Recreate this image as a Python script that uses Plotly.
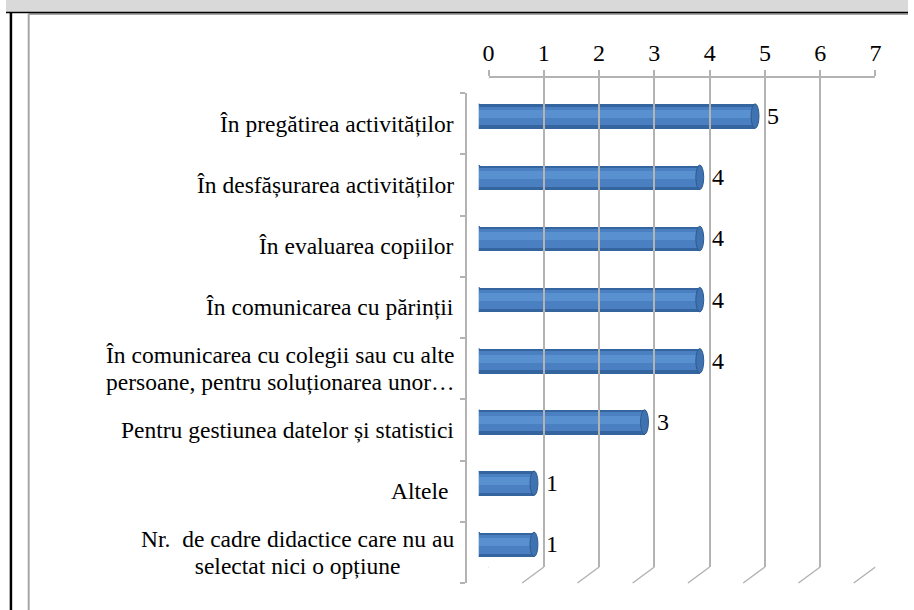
import plotly.graph_objects as go

categories = [
    "În pregătirea activităților",
    "În desfășurarea activităților",
    "În evaluarea copiilor",
    "În comunicarea cu părinții",
    "În comunicarea cu colegii sau cu alte<br>persoane, pentru soluționarea unor…",
    "Pentru gestiunea datelor și statistici",
    "Altele ",
    "Nr.  de cadre didactice care nu au<br>selectat nici o opțiune",
]
values = [5, 4, 4, 4, 4, 3, 1, 1]
tick_vals = [0, 1, 2, 3, 4, 5, 6, 7]
tick_text = ["0", "1", "2", "3", "4", "5", "6", "7"]

W, H = 914, 610
SERIF = "Liberation Serif"
GRID = "#b3b3b3"

def px(x):
    return x / W

def py(y):
    return 1 - y / H

# geometry (pixels)
BACK_X0, BACK_X1, BACK_Y0, BACK_Y1 = 489, 881, 78, 567
FRONT_X0, FRONT_Y0, FRONT_Y1 = 467, 93, 583
MID_X0, MID_Y0, MID_Y1 = 479, 85.5, 575
UNIT = (BACK_X1 - BACK_X0) / 7.0
DEPTH = (BACK_X0 - FRONT_X0) / UNIT
BAR_W = 0.40
CAP = 4.0 / UNIT  # half-width of elliptical cylinder cap, data units

idx = list(range(len(categories)))

fig = go.Figure()

fig.add_trace(go.Bar(
    x=values, y=idx, orientation="h", width=BAR_W,
    marker=dict(color="#35659f", line=dict(width=0)),
    xaxis="x", yaxis="y", showlegend=False, hoverinfo="skip",
))
fig.add_trace(go.Bar(
    x=values, y=idx, orientation="h", width=0.31, offset=-0.165,
    marker=dict(color="#4a80c2", line=dict(width=0)),
    xaxis="x", yaxis="y", showlegend=False, hoverinfo="skip",
))
fig.add_trace(go.Bar(
    x=values, y=idx, orientation="h", width=0.13, offset=-0.11,
    marker=dict(color="#5990d0", line=dict(width=0)),
    xaxis="x", yaxis="y", showlegend=False, hoverinfo="skip",
))
fig.add_trace(go.Scatter(x=[0, 7], y=[0, 1], mode="markers", marker=dict(opacity=0),
                         xaxis="x2", yaxis="y2", showlegend=False, hoverinfo="skip"))
fig.add_trace(go.Scatter(x=[0, 0], y=[0, len(categories) - 1], mode="markers", marker=dict(opacity=0),
                         xaxis="x3", yaxis="y3", showlegend=False, hoverinfo="skip"))

shapes = [
    dict(type="rect", xref="paper", yref="paper", x0=0, x1=1, y0=py(12), y1=1,
         fillcolor="#d9d9d9", line=dict(width=0), layer="below"),
    dict(type="line", xref="paper", yref="paper", x0=px(23), x1=px(23), y0=0, y1=py(14),
         line=dict(color="#a6a6a6", width=2)),
    dict(type="line", xref="paper", yref="paper", x0=px(23), x1=1, y0=py(14), y1=py(14),
         line=dict(color="#a6a6a6", width=2)),
    dict(type="line", xref="paper", yref="paper", x0=0, x1=1, y0=py(12.5), y1=py(12.5),
         line=dict(color="black", width=1.5)),
    dict(type="line", xref="paper", yref="paper", x0=px(5), x1=px(5), y0=0, y1=py(12.5),
         line=dict(color="black", width=2.5)),
    dict(type="line", xref="x2", yref="paper", x0=0, x1=-DEPTH, y0=py(BACK_Y0), y1=py(FRONT_Y0),
         line=dict(color=GRID, width=1.5)),
]
for v in tick_vals:
    shapes.append(dict(type="line", xref="x2", yref="paper", x0=v, x1=v - DEPTH,
                       y0=py(BACK_Y1), y1=py(FRONT_Y1), line=dict(color=GRID, width=1.5)))

# cylinder end caps
for i, v in enumerate(values):
    shapes.append(dict(type="circle", xref="x", yref="y", x0=-CAP, x1=CAP,
                       y0=i - BAR_W / 2, y1=i + BAR_W / 2, layer="between",
                       fillcolor="#4479ba", line=dict(color="#35659f", width=1)))
    shapes.append(dict(type="circle", xref="x", yref="y", x0=v - CAP, x1=v + CAP,
                       y0=i - BAR_W / 2, y1=i + BAR_W / 2, layer="above",
                       fillcolor="#3e72b1", line=dict(color="#2d5a90", width=1)))

annotations = []
for i, c in enumerate(categories):
    annotations.append(dict(
        text="<span style='font-size:23.5px'>" + c.replace("<br>", "</span><br><span style='font-size:23.5px'>") + "</span>",
        xref="paper", x=px(456), xanchor="right", yref="y3", y=i, yanchor="middle",
        align="center", showarrow=False, font=dict(family=SERIF, size=20.5, color="black"),
    ))
for i, v in enumerate(values):
    annotations.append(dict(
        text=str(v), xref="x", x=v, xanchor="left", xshift=10, yref="y", y=i, yanchor="middle",
        showarrow=False, font=dict(family=SERIF, size=24, color="black"),
    ))

fig.update_layout(
    width=W, height=H, margin=dict(l=0, r=0, t=0, b=0),
    paper_bgcolor="white", plot_bgcolor="rgba(0,0,0,0)",
    barmode="overlay", bargap=0,
    xaxis=dict(domain=[px(MID_X0), px(MID_X0 + 7 * UNIT)], range=[0, 7], visible=False,
               anchor="y", fixedrange=True),
    yaxis=dict(domain=[py(MID_Y1), py(MID_Y0)], range=[len(categories) - 0.5, -0.5],
               visible=False, anchor="x"),
    xaxis2=dict(domain=[px(BACK_X0), px(BACK_X1)], range=[0, 7], side="top", anchor="y2",
                tickvals=tick_vals, ticktext=tick_text, ticks="outside", ticklen=6,
                tickcolor=GRID, tickwidth=1.5,
                tickfont=dict(family=SERIF, size=24, color="black"),
                showgrid=True, gridcolor=GRID, gridwidth=1.5, zeroline=False,
                showline=True, linecolor=GRID, linewidth=1.5),
    yaxis2=dict(domain=[py(BACK_Y1), py(BACK_Y0)], range=[0, 1], visible=False, anchor="x2"),
    xaxis3=dict(domain=[px(FRONT_X0), px(BACK_X1)], range=[0, 7], visible=False, anchor="y3"),
    yaxis3=dict(domain=[py(FRONT_Y1), py(FRONT_Y0)], range=[len(categories) - 0.5, -0.5],
                anchor="x3", showline=True, linecolor=GRID, linewidth=1.5,
                ticks="outside", ticklen=5, tickcolor=GRID, tickwidth=1.5,
                tickvals=[i - 0.5 for i in range(len(categories) + 1)],
                showticklabels=False, showgrid=False, zeroline=False),
    shapes=shapes, annotations=annotations,
)

fig.write_html(
    "out.html",
    config={"displayModeBar": False},
    post_script="document.body.style.margin='0';document.body.style.overflow='hidden';",
)
